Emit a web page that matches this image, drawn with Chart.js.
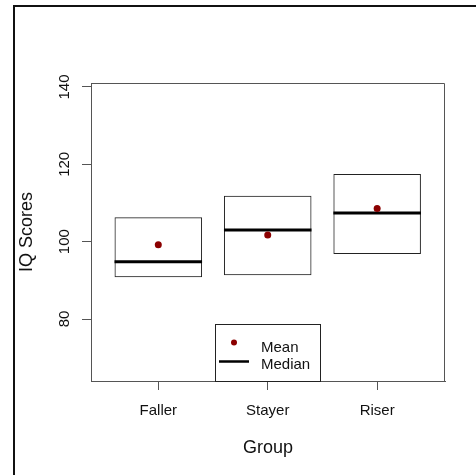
<!DOCTYPE html>
<html>
<head>
<meta charset="utf-8">
<script src="https://cdn.jsdelivr.net/npm/chart.js@4.4.1/dist/chart.umd.min.js"></script>
<style>
  html, body { margin: 0; padding: 0; background: #fff; }
  canvas { display: block; }
</style>
</head>
<body>
<canvas id="iqChart" width="476" height="475"></canvas>
<script>
// values
const groups = ['Faller', 'Stayer', 'Riser'];
const groupPos = [1, 2, 3];
const boxLow = [90.8, 91.3, 96.8];
const boxHigh = [106.3, 111.9, 117.5];
const medians = [94.8, 103.0, 107.4];
const means = [99.2, 101.7, 108.6];
const yTicks = [80, 100, 120, 140];

const FONT = "'Liberation Sans', Arial, sans-serif";
const INK = '#111';
const HALF = 0.4; // half width of each crossbar, in x units

// median segments, separated by gaps
const medianPts = [];
groupPos.forEach((x, i) => {
  medianPts.push({ x: x - HALF, y: medians[i] });
  medianPts.push({ x: x + HALF, y: medians[i] });
  medianPts.push({ x: x + 0.5, y: null });
});

const decor = {
  id: 'decor',
  afterDraw(chart) {
    const { ctx, chartArea: a, scales } = chart;
    ctx.save();

    // plot box (top and right sides)
    ctx.strokeStyle = '#555';
    ctx.lineWidth = 1;
    ctx.beginPath();
    ctx.moveTo(a.left + 0.5, a.top + 0.5);
    ctx.lineTo(a.right - 0.5, a.top + 0.5);
    ctx.lineTo(a.right - 0.5, a.bottom);
    ctx.stroke();

    // tick labels
    ctx.fillStyle = INK;
    ctx.font = '15px ' + FONT;
    ctx.textAlign = 'center';
    ctx.textBaseline = 'alphabetic';
    groups.forEach((g, i) => {
      ctx.fillText(g, scales.x.getPixelForValue(groupPos[i]), 415);
    });
    yTicks.forEach(v => {
      ctx.save();
      ctx.translate(69, scales.y.getPixelForValue(v));
      ctx.rotate(-Math.PI / 2);
      ctx.fillText(String(v), 0, 0);
      ctx.restore();
    });

    // axis titles
    ctx.font = '18px ' + FONT;
    ctx.fillText('Group', (a.left + a.right) / 2, 453);
    ctx.save();
    ctx.translate(32, (a.top + a.bottom) / 2);
    ctx.rotate(-Math.PI / 2);
    ctx.fillText('IQ Scores', 0, 0);
    ctx.restore();

    // legend at bottom centre
    const cx = (a.left + a.right) / 2;
    const lx = cx - 53, lw = 106, ly = a.bottom - 57;
    ctx.fillStyle = '#fff';
    ctx.fillRect(lx, ly, lw, 57);
    ctx.strokeStyle = '#222';
    ctx.lineWidth = 1;
    ctx.strokeRect(lx + 0.5, ly + 0.5, lw - 1, 57);
    ctx.fillStyle = '#8B0000';
    ctx.beginPath();
    ctx.arc(lx + 19, ly + 18.5, 3, 0, Math.PI * 2);
    ctx.fill();
    ctx.strokeStyle = '#000';
    ctx.lineWidth = 2.5;
    ctx.beginPath();
    ctx.moveTo(lx + 4, ly + 37.5);
    ctx.lineTo(lx + 34, ly + 37.5);
    ctx.stroke();
    ctx.fillStyle = INK;
    ctx.font = '15px ' + FONT;
    ctx.textAlign = 'left';
    ctx.fillText('Mean', lx + 46, ly + 27.5);
    ctx.fillText('Median', lx + 46, ly + 44.5);

    // outer frame
    ctx.strokeStyle = '#111';
    ctx.lineWidth = 2;
    ctx.beginPath();
    ctx.moveTo(14, 475);
    ctx.lineTo(14, 6);
    ctx.lineTo(476, 6);
    ctx.stroke();

    ctx.restore();
  }
};

new Chart(document.getElementById('iqChart'), {
  type: 'bar',
  data: {
    datasets: [
      {
        type: 'line',
        label: 'Mean',
        data: groupPos.map((x, i) => ({ x, y: means[i] })),
        showLine: false,
        pointRadius: 3.5,
        pointBackgroundColor: '#8B0000',
        pointBorderWidth: 0,
        order: 0
      },
      {
        type: 'line',
        label: 'Median',
        data: medianPts,
        borderColor: '#000',
        borderWidth: 3,
        pointRadius: 0,
        spanGaps: false,
        order: 1
      },
      {
        type: 'bar',
        label: 'Box',
        data: groupPos.map((x, i) => ({ x, y: [boxLow[i], boxHigh[i]] })),
        backgroundColor: 'rgba(0,0,0,0)',
        borderColor: '#222',
        borderWidth: 1,
        borderSkipped: false,
        categoryPercentage: 1,
        barPercentage: 0.8,
        order: 2
      }
    ]
  },
  options: {
    responsive: false,
    animation: false,
    layout: { padding: { left: 0, top: 83, right: 31, bottom: 0 } },
    plugins: {
      legend: { display: false },
      tooltip: { enabled: false }
    },
    scales: {
      x: {
        type: 'linear',
        min: 0.385,
        max: 3.62,
        offset: false,
        afterBuildTicks: s => { s.ticks = groupPos.map(v => ({ value: v })); },
        afterFit: s => { s.height = 94; },
        ticks: { display: false },
        grid: { offset: false, drawOnChartArea: false, drawTicks: true, tickLength: 9, color: '#555', lineWidth: 1 },
        border: { display: true, color: '#555', width: 1 }
      },
      y: {
        type: 'linear',
        min: 63.97,
        max: 141.03,
        afterBuildTicks: s => { s.ticks = yTicks.map(v => ({ value: v })); },
        afterFit: s => { s.width = 91; },
        ticks: { display: false },
        grid: { drawOnChartArea: false, drawTicks: true, tickLength: 9, color: '#555', lineWidth: 1 },
        border: { display: true, color: '#555', width: 1 }
      }
    }
  },
  plugins: [decor]
});
</script>
</body>
</html>
